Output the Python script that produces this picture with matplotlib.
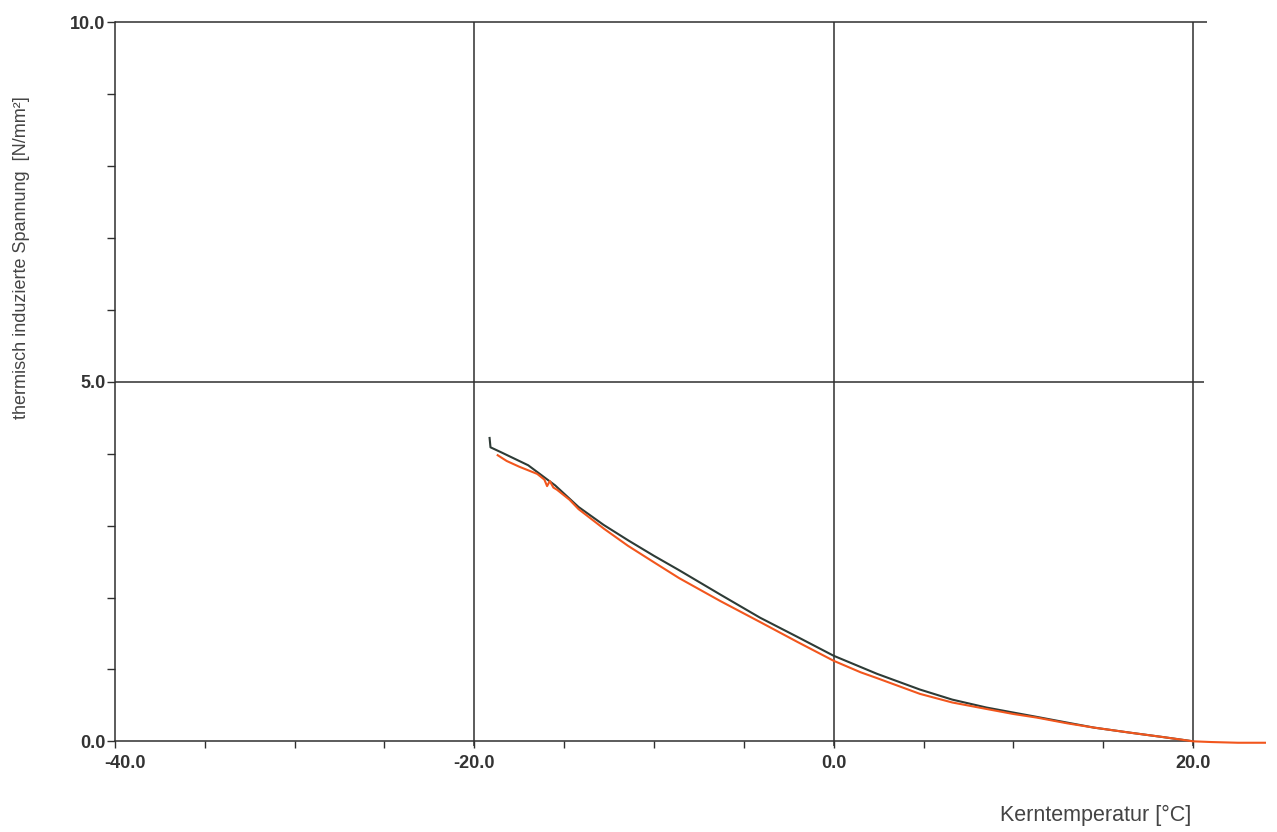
import matplotlib
matplotlib.use("Agg")
import matplotlib.pyplot as plt
import matplotlib.transforms as mtransforms
import numpy as np

plt.rcParams['font.family'] = ['Liberation Sans', 'DejaVu Sans']

# Messkurven
temp_black = [-19.15, -19.1, -18.5, -17.0, -15.5, -14.2, -12.8, -11.4, -10.0, -8.6,
              -6.3, -4.1, -2.0, 0.0, 2.4, 4.8, 6.6, 8.5, 10.0, 11.3, 13.0, 14.5,
              16.5, 18.3, 20.0]
stress_black = [4.22, 4.09, 4.02, 3.84, 3.56, 3.26, 3.01, 2.79, 2.58, 2.38,
                2.04, 1.72, 1.45, 1.19, 0.94, 0.72, 0.58, 0.47, 0.40, 0.34, 0.26, 0.19,
                0.12, 0.06, 0.0]

temp_orange = [-18.7, -18.2, -17.5, -17.0, -16.5, -16.1, -15.95, -15.8, -15.6, -15.4,
               -15.1, -14.7, -14.2, -12.8, -11.45, -10.0, -8.6, -6.3, -4.1, -2.0, 0.0,
               1.5, 2.4, 4.8, 6.6, 8.5, 10.0, 11.3, 13.0, 14.5, 16.5, 18.3, 20.0,
               21.0, 22.5, 24.0]
stress_orange = [3.98, 3.90, 3.82, 3.77, 3.72, 3.64, 3.55, 3.62, 3.53, 3.50,
                 3.44, 3.36, 3.23, 2.96, 2.72, 2.49, 2.27, 1.95, 1.66, 1.38, 1.12,
                 0.96, 0.88, 0.66, 0.54, 0.45, 0.38, 0.33, 0.25, 0.19, 0.12, 0.06, 0.0,
                 -0.01, -0.02, -0.02]

x_major = [-40, -20, 0, 20]
x_labels = ['-40.0', '-20.0', '0.0', '20.0']
y_major = [0, 5, 10]
y_labels = ['0.0', '5.0', '10.0']

fig = plt.figure(figsize=(12.77, 8.32), dpi=100)
ax = fig.add_axes([0.090, 0.109, 0.9076, 0.864])
ax.set_xlim(-40, 24.5)
ax.set_ylim(0, 10)

grid_col = '#2f2f2f'
# Gitter
ax.vlines([-20, 0, 20], -0.06, 10, color=grid_col, lw=1.1, clip_on=False)
ax.hlines(5, -40, 20.6, color=grid_col, lw=1.1, clip_on=False)
ax.hlines(10, -40, 20.8, color=grid_col, lw=1.1, clip_on=False)

for s in ['top', 'right']:
    ax.spines[s].set_visible(False)
ax.spines['bottom'].set_bounds(-40, 20)
ax.spines['left'].set_bounds(0, 10)
for s in ['bottom', 'left']:
    ax.spines[s].set_color(grid_col)
    ax.spines[s].set_linewidth(1.1)

ax.plot(temp_black, stress_black, color='#2e3b36', lw=1.5, zorder=3)
ax.plot(temp_orange, stress_orange, color='#f2561d', lw=1.5, zorder=4, clip_on=False)

ax.set_xticks(x_major)
ax.set_xticklabels(x_labels)
ax.set_xticks(np.arange(-35, 20, 5), minor=True)
ax.set_yticks(y_major)
ax.set_yticklabels(y_labels)
ax.set_yticks(np.arange(1, 10, 1), minor=True)

ax.tick_params(axis='x', which='both', direction='out', length=5, width=1.0,
               color=grid_col, pad=5, labelsize=13, labelcolor='#333333')
ax.tick_params(axis='y', which='both', direction='out', length=6, width=1.0,
               color=grid_col, pad=1, labelsize=13, labelcolor='#333333')
for lab in ax.get_xticklabels() + ax.get_yticklabels():
    lab.set_fontweight('bold')

# -40.0 etwas nach rechts versetzt wie im Original
shift = mtransforms.ScaledTranslation(10 / 100, 0, fig.dpi_scale_trans)
first = ax.get_xticklabels()[0]
first.set_transform(first.get_transform() + shift)

fig.text(0.017, 0.69, 'thermisch induzierte Spannung  [N/mm²]', rotation=90,
         ha='center', va='center', fontsize=13, color='#444444')
fig.text(0.933, 0.02, 'Kerntemperatur [°C]', ha='right', va='center',
         fontsize=15.5, color='#444444')

fig.savefig('out.png', dpi=100, facecolor='white')
